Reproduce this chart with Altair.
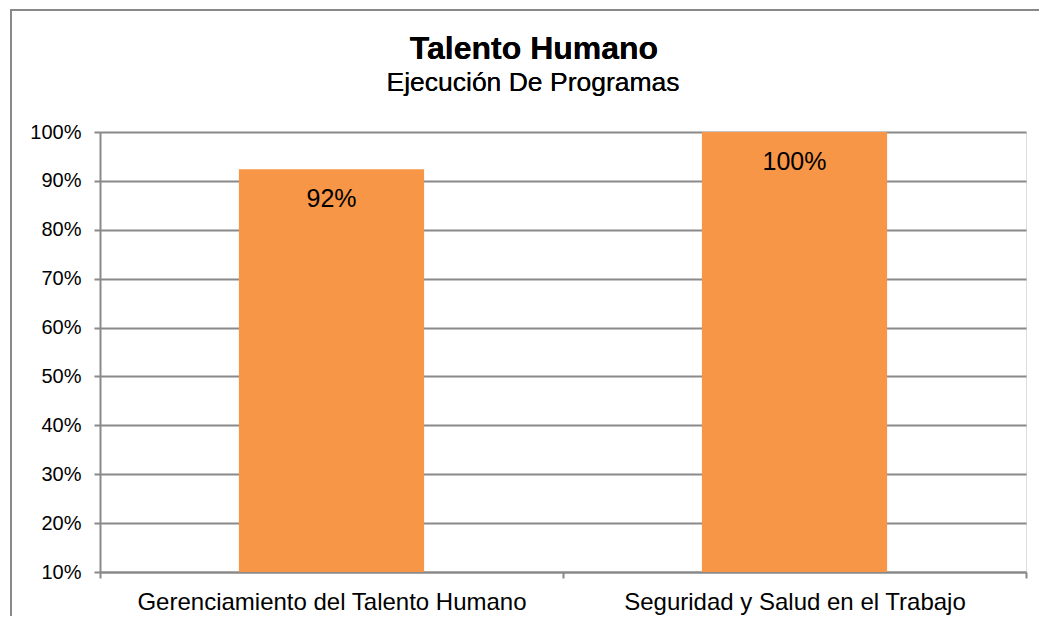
import altair as alt
import pandas as pd

categories = ["Gerenciamiento del Talento Humano", "Seguridad y Salud en el Trabajo"]
values = [0.924, 1.0]
labels = ["92%", "100%"]
y_ticks = [0.1, 0.2, 0.3, 0.4, 0.5, 0.6, 0.7, 0.8, 0.9, 1.0]

title_text = "Talento Humano"
subtitle_text = "Ejecución De Programas"

df = pd.DataFrame({"cat": categories, "val": values, "lab": labels})

FONT = "Liberation Sans"
GRAY = "#898989"
W, H = 926, 440

x_enc = alt.X("cat:N", sort=categories, title=None,
              scale=alt.Scale(paddingInner=0, paddingOuter=0),
              axis=alt.Axis(labelAngle=0, tickBand="extent", grid=False, labelLimit=1000,
                            domainColor=GRAY, domainWidth=2, tickColor=GRAY, tickWidth=2,
                            tickSize=6, labelFontSize=24, labelFont=FONT, labelColor="#000",
                            labelPadding=12))
y_scale = alt.Scale(domain=[0.1, 1.0], nice=False, zero=False)

bars = alt.Chart(df).mark_bar(color="#F79646", width={"band": 0.4}).encode(
    x=x_enc,
    y=alt.Y("val:Q", scale=y_scale, title=None,
            axis=alt.Axis(values=y_ticks, format=".0%", grid=True, gridColor=GRAY, gridWidth=2,
                          domainColor=GRAY, domainWidth=2, tickColor=GRAY, tickWidth=2,
                          tickSize=6, labelFontSize=20, labelFont=FONT, labelColor="#000",
                          labelPadding=13)),
    y2=alt.datum(0.1),
)

text = alt.Chart(df).mark_text(fontSize=25, font=FONT, color="#000", baseline="alphabetic", dy=38).encode(
    x=alt.X("cat:N", sort=categories),
    y=alt.Y("val:Q", scale=y_scale),
    text="lab:N",
)

title = alt.Chart(df).mark_text(fontSize=32, font=FONT, fontWeight="bold", color="#000",
                                baseline="alphabetic", align="center").encode(
    x=alt.value(434), y=alt.value(-73), text=alt.value(title_text))
subtitle = alt.Chart(df).mark_text(fontSize=26.5, font=FONT, color="#000",
                                   baseline="alphabetic", align="center").encode(
    x=alt.value(433), y=alt.value(-41), text=alt.value(subtitle_text))

border_left = alt.Chart(df).mark_rule(color=GRAY, strokeWidth=2).encode(
    x=alt.value(-89), y=alt.value(-122), y2=alt.value(H + 60))
border_top = alt.Chart(df).mark_rule(color=GRAY, strokeWidth=2).encode(
    x=alt.value(-90), x2=alt.value(W + 40), y=alt.value(-122))

chart = alt.layer(bars, text, title, subtitle, border_left, border_top).properties(
    width=W, height=H,
    autosize=alt.AutoSizeParams(type="none"),
    padding={"left": 92, "top": 124, "right": 13, "bottom": 44},
).configure_view(stroke=None).configure(background="white")

chart.save("out.html", embed_options={"renderer": "svg", "actions": False})
